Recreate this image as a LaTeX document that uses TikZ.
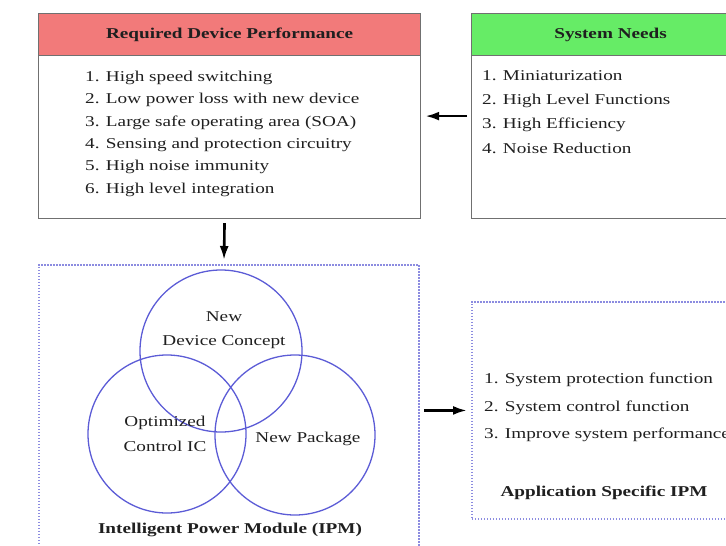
\documentclass[tikz,border=0pt]{standalone}
\usepackage{fontspec}
\setmainfont[FakeStretch=1.28]{Liberation Serif}
\usetikzlibrary{positioning,arrows.meta}
\definecolor{hdrred}{RGB}{242,122,122}
\definecolor{hdrgreen}{RGB}{102,236,102}
\definecolor{boxgray}{RGB}{112,112,112}
\definecolor{dotblue}{RGB}{140,140,224}
\definecolor{vennblue}{RGB}{92,92,214}
\begin{document}
\begin{tikzpicture}[x=1pt, y=-1pt, font=\fontsize{15}{22.3}\selectfont, text=black!88,
		frame/.style = {draw=boxgray, line width=1.2pt, minimum height=205pt, anchor=north west, inner sep=0pt},
		hdr/.style = {draw=boxgray, line width=1.2pt, minimum height=42pt, anchor=north west, font=\fontsize{15}{18}\selectfont\bfseries},
		items/.style = {align=left, anchor=north west, inner sep=0pt},
		zone/.style = {draw=dotblue, line width=1.9pt, dash pattern=on 1.5pt off 1.5pt, anchor=north west, inner sep=0pt},
		venn/.style = {draw=vennblue, line width=1.3pt, circle, inner sep=0pt},
		title/.style = {font=\fontsize{15}{18}\selectfont\bfseries},
		link/.style = {-{Latex[length=14pt, width=9pt]}, line width=2.6pt, shorten >=4pt, shorten <=4pt}]
	\useasboundingbox (0,0) rectangle (726,546);
	\clip (0,0) rectangle (726,546);
	% top row: performance and needs
	\node[frame, minimum width=382pt] (req) at (38,13) {};
	\node[hdr, fill=hdrred, minimum width=382pt] (reqhead) at (req.north west) {Required Device Performance};
	\node[items] (reqlist) at (85,71) {1. High speed switching\\2. Low power loss with new device\\3. Large safe operating area (SOA)\\4. Sensing and protection circuitry\\5. High noise immunity\\6. High level integration};
	\node[frame, minimum width=278pt] (needs) at (471,13) {};
	\node[hdr, fill=hdrgreen, minimum width=278pt] (needshead) at (needs.north west) {System Needs};
	\node[items, font=\fontsize{15}{24.4}\selectfont] (needslist) at (482,70) {1. Miniaturization\\2. High Level Functions\\3. High Efficiency\\4. Noise Reduction};
	% bottom row: module and application
	\node[zone, minimum width=380pt, minimum height=300pt] (ipm) at (38,264) {};
	\node[venn, minimum size=162pt] (dev) at (221,351) {};
	\node[venn, minimum size=158pt] (ctl) at (167,434) {};
	\node[venn, minimum size=160pt] (pkg) at (295,435) {};
	\node[align=center, font=\fontsize{15}{24}\selectfont] (devtxt) at (224,330) {New\\Device Concept};
	\node[align=center, font=\fontsize{15}{25}\selectfont] (ctltxt) at (165,434) {Optimized\\Control IC};
	\node (pkgtxt) at (308,439) {New Package};
	\node[title] (ipmtxt) at (230,530) {Intelligent Power Module (IPM)};
	\node[zone, minimum width=300pt, minimum height=217pt] (app) at (471,301) {};
	\node[items, font=\fontsize{15}{27.5}\selectfont] (applist) at (484,373) {1. System protection function\\2. System control function\\3. Improve system performance};
	\node[title] (apptxt) at (604,493) {Application Specific IPM};
	% arrows
	\draw[link] (needs.west) -- (req.east);
	\draw[link] ([xshift=-5pt]req.south) -- ([xshift=-5pt]ipm.north);
	\draw[link] (ipm.east |- app.west) -- (app.west);
\end{tikzpicture}
\end{document}
